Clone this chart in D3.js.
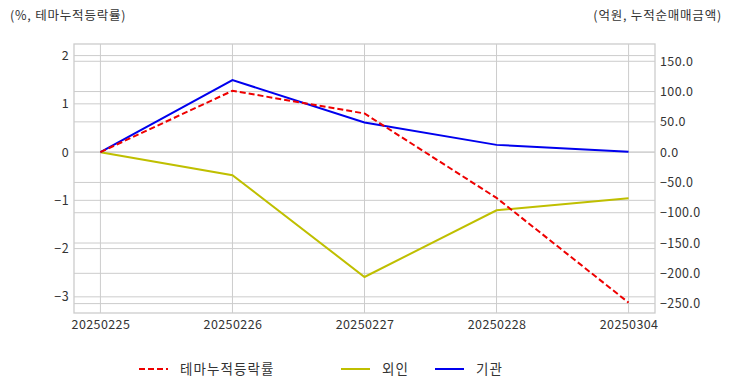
<!DOCTYPE html>
<html><head><meta charset="utf-8">
<script src="https://cdn.jsdelivr.net/npm/d3@7"></script>
<style>
body{margin:0;background:#fff;}
text{font-family:"Noto Sans CJK KR","Noto Sans",sans-serif;fill:#333;}
</style></head>
<body><svg id="c" width="732" height="392"></svg>
<script>
const categories = ["20250225","20250226","20250227","20250228","20250304"];
const themeReturn = [0, 1.27, 0.80, -0.95, -3.12];
const foreign = [0, -38, -206, -96, -76];
const institution = [0, 119, 49, 12, 0.5];
const leftTicks = [2, 1, 0, -1, -2, -3];
const rightTicks = [150, 100, 50, 0, -50, -100, -150, -200, -250];
const seriesNames = ["테마누적등락률", "외인", "기관"];
const leftTitle = "(%, 테마누적등락률)";
const rightTitle = "(억원, 누적순매매금액)";

const svg = d3.select("#c");
const L = 74, R = 655, T = 44, B = 313;
const x = d3.scalePoint().domain(categories).range([L, R]).padding(0.2);
const yL = d3.scaleLinear().domain([-3.335, 2.24]).range([B, T]);
const yR = d3.scaleLinear().domain([-265.5, 178.5]).range([B, T]);
const grid = "#cccccc";

const g = svg.append("g");
g.selectAll(".gl").data(leftTicks).join("line")
  .attr("x1", L).attr("x2", R).attr("y1", d => yL(d)).attr("y2", d => yL(d))
  .attr("stroke", grid).attr("stroke-width", 1);
g.selectAll(".gr").data(rightTicks).join("line")
  .attr("x1", L).attr("x2", R).attr("y1", d => yR(d)).attr("y2", d => yR(d))
  .attr("stroke", grid).attr("stroke-width", 1);
g.selectAll(".gx").data(categories).join("line")
  .attr("x1", d => x(d)).attr("x2", d => x(d)).attr("y1", T).attr("y2", B)
  .attr("stroke", grid).attr("stroke-width", 1);
g.append("rect").attr("x", L).attr("y", T).attr("width", R - L).attr("height", B - T)
  .attr("fill", "none").attr("stroke", grid).attr("stroke-width", 1.3);

const axL = d3.axisLeft(yL).tickValues(leftTicks).tickFormat(d3.format("d")).tickSize(0).tickPadding(5);
const axR = d3.axisRight(yR).tickValues(rightTicks).tickFormat(d3.format(".1f")).tickSize(0).tickPadding(5);
const axB = d3.axisBottom(x).tickSize(0).tickPadding(7);
function style(sel){ sel.select(".domain").remove(); sel.selectAll("text").style("font-size","12.5px").style("letter-spacing","0.4px").attr("fill","#333"); }
svg.append("g").attr("transform", `translate(${L},0)`).call(axL).call(style);
svg.append("g").attr("transform", `translate(${R},0)`).call(axR).call(style);
svg.append("g").attr("transform", `translate(0,${B})`).call(axB).call(style);

const lineL = d3.line().x((d,i) => x(categories[i])).y(d => yL(d));
const lineR = d3.line().x((d,i) => x(categories[i])).y(d => yR(d));
svg.append("path").datum(foreign).attr("d", lineR).attr("fill","none").attr("stroke","#bfbf00").attr("stroke-width",2);
svg.append("path").datum(institution).attr("d", lineR).attr("fill","none").attr("stroke","#0000ee").attr("stroke-width",2);
svg.append("path").datum(themeReturn).attr("d", lineL).attr("fill","none").attr("stroke","#ee0000").attr("stroke-width",2).attr("stroke-dasharray","6,3");

svg.append("text").attr("x", 10).attr("y", 20).style("font-size","12.5px").style("letter-spacing","0.8px").text(leftTitle);
svg.append("text").attr("x", 722).attr("y", 20).attr("text-anchor","end").style("font-size","12.5px").style("letter-spacing","0.8px").text(rightTitle);

const leg = [
  {name: seriesNames[0], color:"#ee0000", dash:"6,3", x:139},
  {name: seriesNames[1], color:"#bfbf00", dash:null, x:341},
  {name: seriesNames[2], color:"#0000ee", dash:null, x:435}
];
const lg = svg.selectAll(".leg").data(leg).join("g");
lg.append("line").attr("x1", d => d.x).attr("x2", d => d.x + 29).attr("y1", 369).attr("y2", 369)
  .attr("stroke", d => d.color).attr("stroke-width", 2).attr("stroke-dasharray", d => d.dash);
lg.append("text").attr("x", d => d.x + 41).attr("y", 369).attr("dy","0.35em").style("font-size","13.5px").style("letter-spacing","1.1px").text(d => d.name);
</script></body></html>
